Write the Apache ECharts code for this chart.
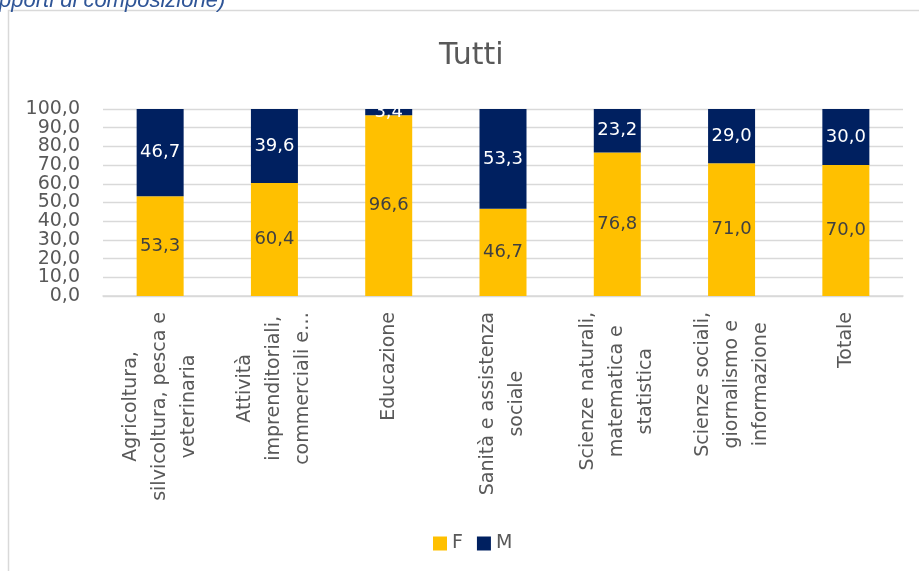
<!DOCTYPE html>
<html>
<head>
<meta charset="utf-8">
<script src="https://cdn.jsdelivr.net/npm/echarts@6/dist/echarts.min.js"></script>
<style>
html,body{margin:0;padding:0;background:#fff;}
#chart{width:919px;height:571px;}
</style>
</head>
<body>
<div id="chart"></div>
<script>
const categories = [
  "Agricoltura,\nsilvicoltura, pesca e\nveterinaria",
  "Attività\nimprenditoriali,\ncommerciali e…",
  "Educazione",
  "Sanità e assistenza\nsociale",
  "Scienze naturali,\nmatematica e\nstatistica",
  "Scienze sociali,\ngiornalismo e\ninformazione",
  "Totale"
];
const valuesF = [53.3, 60.4, 96.6, 46.7, 76.8, 71.0, 70.0];
const valuesM = [46.7, 39.6, 3.4, 53.3, 23.2, 29.0, 30.0];
const seriesNames = ["F", "M"];
const chartTitle = "Tutti";
const headerText = "pporti di composizione)";

const FONT = '"DejaVu Sans", sans-serif';
const fmt = v => Number(v).toFixed(1).replace('.', ',');

// two overlaid value axes on the left: one prints the even tens, the other the odd tens
function yAxisDef(showEven, withGrid) {
  return {
    type: 'value',
    position: 'left',
    min: 0,
    max: 100,
    interval: 10,
    axisLine: {show: false},
    axisTick: {show: false},
    splitLine: {show: withGrid, lineStyle: {color: '#d9d9d9', width: 1.3}},
    axisLabel: {
      margin: 23,
      color: '#595959',
      fontFamily: FONT,
      fontSize: 19,
      formatter: v => ((Math.round(v / 10) % 2 === 0) === showEven ? fmt(v) : '')
    }
  };
}

const chart = echarts.init(document.getElementById('chart'), null, {renderer: 'canvas'});
chart.setOption({
  animation: false,
  backgroundColor: '#ffffff',
  textStyle: {fontFamily: FONT},
  title: {
    text: chartTitle,
    left: 434,
    top: 36,
    textStyle: {fontFamily: FONT, fontSize: 30, fontWeight: 'normal', color: '#595959'}
  },
  graphic: [
    {
      type: 'rect',
      silent: true,
      shape: {x: 8.5, y: 10.5, width: 1200, height: 1200},
      style: {fill: 'none', stroke: '#d9d9d9', lineWidth: 1.5}
    },
    {
      type: 'text',
      silent: true,
      x: -1,
      y: 1,
      style: {
        text: headerText,
        font: 'italic 22px "Liberation Sans", sans-serif',
        fill: '#2F5597',
        verticalAlign: 'middle',
        align: 'left'
      }
    }
  ],
  legend: {
    data: seriesNames,
    left: 428,
    top: 529,
    icon: 'rect',
    itemWidth: 14,
    itemHeight: 14,
    itemGap: 14,
    textStyle: {fontFamily: FONT, fontSize: 19, color: '#595959'}
  },
  grid: {left: 103, right: 16, top: 109, bottom: 275, containLabel: false},
  xAxis: {
    type: 'category',
    data: categories,
    axisTick: {show: false},
    axisLine: {lineStyle: {color: '#d9d9d9', width: 1.5}},
    axisLabel: {
      interval: 0,
      rotate: 90,
      margin: 16,
      color: '#595959',
      fontFamily: FONT,
      fontSize: 19,
      lineHeight: 29,
      formatter: v => v.split('\n').map(s => '{c|' + s + '}').join('\n'),
      rich: {c: {align: 'center', fontFamily: FONT, fontSize: 19, lineHeight: 29, color: '#595959'}}
    }
  },
  yAxis: [yAxisDef(true, true), yAxisDef(false, false)],
  series: [
    {
      name: seriesNames[0],
      type: 'bar',
      stack: 'tot',
      yAxisIndex: 0,
      barWidth: 47,
      data: valuesF,
      itemStyle: {color: '#FFC000'},
      label: {show: true, position: 'inside', fontFamily: FONT, fontSize: 18, color: '#404040', formatter: p => fmt(p.value)}
    },
    {
      name: seriesNames[1],
      type: 'bar',
      stack: 'tot',
      yAxisIndex: 0,
      barWidth: 47,
      data: valuesM,
      itemStyle: {color: '#002060'},
      label: {show: true, position: 'inside', fontFamily: FONT, fontSize: 18, color: '#ffffff', formatter: p => fmt(p.value)}
    }
  ]
});
</script>
</body>
</html>
